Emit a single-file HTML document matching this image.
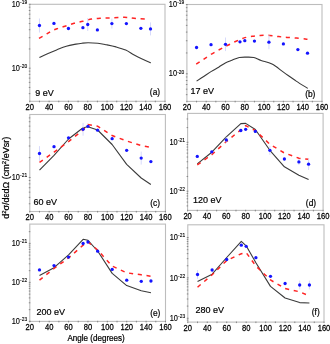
<!DOCTYPE html><html><head><meta charset="utf-8"><style>html,body{margin:0;padding:0;background:#fff;width:330px;height:344px;overflow:hidden}</style></head><body><svg width="330" height="344" viewBox="0 0 330 344" style="display:block;will-change:transform">
<rect width="330" height="344" fill="#fff"/>
<rect x="29.80" y="4.30" width="135.20" height="97.00" fill="none" stroke="#bdbdbd" stroke-width="1.1"/>
<path d="M28.80,93.63h1.50M28.80,87.44h1.50M28.80,82.38h1.50M28.80,78.10h1.50M28.80,74.39h1.50M28.80,71.12h1.50M28.80,68.20h1.80M28.80,48.96h1.50M28.80,37.71h1.50M28.80,29.73h1.50M28.80,23.54h1.50M28.80,18.48h1.50M28.80,14.20h1.50M28.80,10.49h1.50M28.80,7.22h1.50M28.80,4.30h1.80M29.80,102.30v-1.60M39.46,102.30v-1.60M49.11,102.30v-1.60M58.77,102.30v-1.60M68.43,102.30v-1.60M78.09,102.30v-1.60M87.74,102.30v-1.60M97.40,102.30v-1.60M107.06,102.30v-1.60M116.71,102.30v-1.60M126.37,102.30v-1.60M136.03,102.30v-1.60M145.69,102.30v-1.60M155.34,102.30v-1.60M165.00,102.30v-1.60" stroke="#808080" stroke-width="0.9" fill="none"/>
<text transform="translate(29.80,110.10) scale(1,1.15)" font-family="Liberation Sans, sans-serif" font-size="7.6" fill="#000" stroke="#000" stroke-width="0.22" text-anchor="middle">20</text>
<text transform="translate(49.11,110.10) scale(1,1.15)" font-family="Liberation Sans, sans-serif" font-size="7.6" fill="#000" stroke="#000" stroke-width="0.22" text-anchor="middle">40</text>
<text transform="translate(68.43,110.10) scale(1,1.15)" font-family="Liberation Sans, sans-serif" font-size="7.6" fill="#000" stroke="#000" stroke-width="0.22" text-anchor="middle">60</text>
<text transform="translate(87.74,110.10) scale(1,1.15)" font-family="Liberation Sans, sans-serif" font-size="7.6" fill="#000" stroke="#000" stroke-width="0.22" text-anchor="middle">80</text>
<text transform="translate(107.06,110.10) scale(1,1.15)" font-family="Liberation Sans, sans-serif" font-size="7.6" fill="#000" stroke="#000" stroke-width="0.22" text-anchor="middle">100</text>
<text transform="translate(126.37,110.10) scale(1,1.15)" font-family="Liberation Sans, sans-serif" font-size="7.6" fill="#000" stroke="#000" stroke-width="0.22" text-anchor="middle">120</text>
<text transform="translate(145.69,110.10) scale(1,1.15)" font-family="Liberation Sans, sans-serif" font-size="7.6" fill="#000" stroke="#000" stroke-width="0.22" text-anchor="middle">140</text>
<text transform="translate(165.00,110.10) scale(1,1.15)" font-family="Liberation Sans, sans-serif" font-size="7.6" fill="#000" stroke="#000" stroke-width="0.22" text-anchor="middle">160</text>
<text transform="translate(27.20,6.90) scale(1,1.2)" font-family="Liberation Sans, sans-serif" font-size="7.4" fill="#000" stroke="#000" stroke-width="0.12" text-anchor="end">10<tspan dx="0.2" dy="-2.4" font-size="4.9">-19</tspan></text>
<text transform="translate(27.20,70.80) scale(1,1.2)" font-family="Liberation Sans, sans-serif" font-size="7.4" fill="#000" stroke="#000" stroke-width="0.12" text-anchor="end">10<tspan dx="0.2" dy="-2.4" font-size="4.9">-20</tspan></text>
<text x="35.30" y="95.70" font-family="Liberation Sans, sans-serif" font-size="9.0" fill="#000" stroke="#000" stroke-width="0.2">9 eV</text>
<text x="160.10" y="94.60" font-family="Liberation Sans, sans-serif" font-size="8.4" fill="#000" stroke="#000" stroke-width="0.2" text-anchor="end">(a)</text>
<path d="M39.40,57.40 C40.85,56.75 45.23,54.75 48.10,53.50 C50.97,52.25 53.57,51.12 56.60,49.90 C59.63,48.68 63.07,47.17 66.30,46.20 C69.53,45.23 73.37,44.60 76.00,44.10 C78.63,43.60 80.08,43.42 82.10,43.20 C84.12,42.98 85.48,42.80 88.10,42.80 C90.72,42.80 94.77,42.88 97.80,43.20 C100.83,43.52 103.27,44.08 106.30,44.70 C109.33,45.32 112.77,46.00 116.00,46.90 C119.23,47.80 122.67,48.75 125.70,50.10 C128.73,51.45 131.37,53.48 134.20,55.00 C137.03,56.52 139.92,57.90 142.70,59.20 C145.48,60.50 149.53,62.20 150.90,62.80" fill="none" stroke="#3a3a3a" stroke-width="1.1"/>
<path d="M39.00,38.40 C40.00,37.82 43.00,36.08 45.00,34.90 C47.00,33.72 49.00,32.33 51.00,31.30 C53.00,30.27 54.67,29.53 57.00,28.70 C59.33,27.87 62.17,27.20 65.00,26.30 C67.83,25.40 71.03,24.13 74.00,23.30 C76.97,22.47 79.87,22.00 82.80,21.30 C85.73,20.60 88.65,19.62 91.60,19.10 C94.55,18.58 97.52,18.40 100.50,18.20 C103.48,18.00 106.58,18.02 109.50,17.90 C112.42,17.78 115.08,17.58 118.00,17.50 C120.92,17.42 124.00,17.22 127.00,17.40 C130.00,17.58 132.67,18.32 136.00,18.60 C139.33,18.88 145.17,19.02 147.00,19.10" fill="none" stroke="#ff2424" stroke-width="1.5" stroke-dasharray="4.1,4.7"/>
<path d="M39.46,18.50v14.00" stroke="#d2d6fb" stroke-width="0.9"/>
<path d="M87.74,18.00v13.00" stroke="#d2d6fb" stroke-width="0.9"/>
<path d="M111.89,18.60v10.00" stroke="#d2d6fb" stroke-width="0.9"/>
<path d="M150.51,22.40v13.00" stroke="#d2d6fb" stroke-width="0.9"/>
<circle cx="39.46" cy="25.50" r="1.65" fill="#1414ff"/>
<circle cx="53.94" cy="23.40" r="1.65" fill="#1414ff"/>
<circle cx="68.43" cy="28.50" r="1.65" fill="#1414ff"/>
<circle cx="82.91" cy="27.70" r="1.65" fill="#1414ff"/>
<circle cx="87.74" cy="24.50" r="1.65" fill="#1414ff"/>
<circle cx="97.40" cy="29.90" r="1.65" fill="#1414ff"/>
<circle cx="111.89" cy="23.60" r="1.65" fill="#1414ff"/>
<circle cx="126.37" cy="23.60" r="1.65" fill="#1414ff"/>
<circle cx="140.86" cy="28.30" r="1.65" fill="#1414ff"/>
<circle cx="150.51" cy="28.90" r="1.65" fill="#1414ff"/>
<rect x="186.90" y="4.50" width="135.10" height="96.90" fill="none" stroke="#bdbdbd" stroke-width="1.1"/>
<path d="M185.90,94.66h1.50M185.90,89.17h1.50M185.90,84.53h1.50M185.90,80.52h1.50M185.90,76.97h1.50M185.90,73.80h1.80M185.90,52.94h1.50M185.90,40.74h1.50M185.90,32.08h1.50M185.90,25.36h1.50M185.90,19.87h1.50M185.90,15.23h1.50M185.90,11.22h1.50M185.90,7.67h1.50M185.90,4.50h1.80M186.90,102.40v-1.60M196.55,102.40v-1.60M206.20,102.40v-1.60M215.85,102.40v-1.60M225.50,102.40v-1.60M235.15,102.40v-1.60M244.80,102.40v-1.60M254.45,102.40v-1.60M264.10,102.40v-1.60M273.75,102.40v-1.60M283.40,102.40v-1.60M293.05,102.40v-1.60M302.70,102.40v-1.60M312.35,102.40v-1.60M322.00,102.40v-1.60" stroke="#808080" stroke-width="0.9" fill="none"/>
<text transform="translate(186.90,110.20) scale(1,1.15)" font-family="Liberation Sans, sans-serif" font-size="7.6" fill="#000" stroke="#000" stroke-width="0.22" text-anchor="middle">20</text>
<text transform="translate(206.20,110.20) scale(1,1.15)" font-family="Liberation Sans, sans-serif" font-size="7.6" fill="#000" stroke="#000" stroke-width="0.22" text-anchor="middle">40</text>
<text transform="translate(225.50,110.20) scale(1,1.15)" font-family="Liberation Sans, sans-serif" font-size="7.6" fill="#000" stroke="#000" stroke-width="0.22" text-anchor="middle">60</text>
<text transform="translate(244.80,110.20) scale(1,1.15)" font-family="Liberation Sans, sans-serif" font-size="7.6" fill="#000" stroke="#000" stroke-width="0.22" text-anchor="middle">80</text>
<text transform="translate(264.10,110.20) scale(1,1.15)" font-family="Liberation Sans, sans-serif" font-size="7.6" fill="#000" stroke="#000" stroke-width="0.22" text-anchor="middle">100</text>
<text transform="translate(283.40,110.20) scale(1,1.15)" font-family="Liberation Sans, sans-serif" font-size="7.6" fill="#000" stroke="#000" stroke-width="0.22" text-anchor="middle">120</text>
<text transform="translate(302.70,110.20) scale(1,1.15)" font-family="Liberation Sans, sans-serif" font-size="7.6" fill="#000" stroke="#000" stroke-width="0.22" text-anchor="middle">140</text>
<text transform="translate(322.00,110.20) scale(1,1.15)" font-family="Liberation Sans, sans-serif" font-size="7.6" fill="#000" stroke="#000" stroke-width="0.22" text-anchor="middle">160</text>
<text transform="translate(184.30,7.10) scale(1,1.2)" font-family="Liberation Sans, sans-serif" font-size="7.4" fill="#000" stroke="#000" stroke-width="0.12" text-anchor="end">10<tspan dx="0.2" dy="-2.4" font-size="4.9">-19</tspan></text>
<text transform="translate(184.30,76.40) scale(1,1.2)" font-family="Liberation Sans, sans-serif" font-size="7.4" fill="#000" stroke="#000" stroke-width="0.12" text-anchor="end">10<tspan dx="0.2" dy="-2.4" font-size="4.9">-20</tspan></text>
<text x="190.50" y="93.80" font-family="Liberation Sans, sans-serif" font-size="9.0" fill="#000" stroke="#000" stroke-width="0.2">17 eV</text>
<text x="315.40" y="96.90" font-family="Liberation Sans, sans-serif" font-size="8.4" fill="#000" stroke="#000" stroke-width="0.2" text-anchor="end">(b)</text>
<path d="M196.60,81.10 C197.85,80.28 201.63,77.82 204.10,76.20 C206.57,74.58 208.97,72.90 211.40,71.40 C213.83,69.90 216.38,68.62 218.70,67.20 C221.02,65.78 223.08,64.07 225.30,62.90 C227.52,61.73 229.67,61.10 232.00,60.20 C234.33,59.30 236.88,58.02 239.30,57.50 C241.72,56.98 244.08,57.10 246.50,57.10 C248.92,57.10 251.37,56.93 253.80,57.50 C256.23,58.07 258.07,59.40 261.10,60.50 C264.13,61.60 268.17,62.08 272.00,64.10 C275.83,66.12 280.07,69.77 284.10,72.60 C288.13,75.43 292.25,78.47 296.20,81.10 C300.15,83.73 305.87,87.18 307.80,88.40" fill="none" stroke="#3a3a3a" stroke-width="1.1"/>
<path d="M196.20,64.10 C197.42,63.30 200.97,60.95 203.50,59.30 C206.03,57.65 208.72,55.83 211.40,54.20 C214.08,52.57 216.97,50.92 219.60,49.50 C222.23,48.08 224.55,47.03 227.20,45.70 C229.85,44.37 232.78,42.77 235.50,41.50 C238.22,40.23 240.72,38.97 243.50,38.10 C246.28,37.23 249.42,36.75 252.20,36.30 C254.98,35.85 257.30,35.55 260.20,35.40 C263.10,35.25 266.52,35.20 269.60,35.40 C272.68,35.60 275.80,36.27 278.70,36.60 C281.60,36.93 284.03,37.15 287.00,37.40 C289.97,37.65 293.47,37.85 296.50,38.10 C299.53,38.35 303.25,38.65 305.20,38.90 C307.15,39.15 307.70,39.48 308.20,39.60" fill="none" stroke="#ff2424" stroke-width="1.5" stroke-dasharray="4.1,4.7"/>
<path d="M225.50,37.50v13.60" stroke="#d2d6fb" stroke-width="0.9"/>
<path d="M268.93,35.20v14.00" stroke="#d2d6fb" stroke-width="0.9"/>
<circle cx="196.55" cy="47.50" r="1.65" fill="#1414ff"/>
<circle cx="211.03" cy="44.70" r="1.65" fill="#1414ff"/>
<circle cx="225.50" cy="44.30" r="1.65" fill="#1414ff"/>
<circle cx="239.98" cy="41.80" r="1.65" fill="#1414ff"/>
<circle cx="244.80" cy="40.70" r="1.65" fill="#1414ff"/>
<circle cx="254.45" cy="41.10" r="1.65" fill="#1414ff"/>
<circle cx="268.93" cy="42.20" r="1.65" fill="#1414ff"/>
<circle cx="283.40" cy="43.90" r="1.65" fill="#1414ff"/>
<circle cx="297.88" cy="49.60" r="1.65" fill="#1414ff"/>
<circle cx="307.52" cy="53.20" r="1.65" fill="#1414ff"/>
<rect x="29.80" y="114.50" width="135.60" height="97.00" fill="none" stroke="#bdbdbd" stroke-width="1.1"/>
<path d="M28.80,203.76h1.50M28.80,197.37h1.50M28.80,192.14h1.50M28.80,187.72h1.50M28.80,183.90h1.50M28.80,180.52h1.50M28.80,177.50h1.80M28.80,157.63h1.50M28.80,146.01h1.50M28.80,137.76h1.50M28.80,131.37h1.50M28.80,126.14h1.50M28.80,121.72h1.50M28.80,117.90h1.50M29.80,212.50v-1.60M39.49,212.50v-1.60M49.17,212.50v-1.60M58.86,212.50v-1.60M68.54,212.50v-1.60M78.23,212.50v-1.60M87.91,212.50v-1.60M97.60,212.50v-1.60M107.29,212.50v-1.60M116.97,212.50v-1.60M126.66,212.50v-1.60M136.34,212.50v-1.60M146.03,212.50v-1.60M155.71,212.50v-1.60M165.40,212.50v-1.60" stroke="#808080" stroke-width="0.9" fill="none"/>
<text transform="translate(29.80,220.30) scale(1,1.15)" font-family="Liberation Sans, sans-serif" font-size="7.6" fill="#000" stroke="#000" stroke-width="0.22" text-anchor="middle">20</text>
<text transform="translate(49.17,220.30) scale(1,1.15)" font-family="Liberation Sans, sans-serif" font-size="7.6" fill="#000" stroke="#000" stroke-width="0.22" text-anchor="middle">40</text>
<text transform="translate(68.54,220.30) scale(1,1.15)" font-family="Liberation Sans, sans-serif" font-size="7.6" fill="#000" stroke="#000" stroke-width="0.22" text-anchor="middle">60</text>
<text transform="translate(87.91,220.30) scale(1,1.15)" font-family="Liberation Sans, sans-serif" font-size="7.6" fill="#000" stroke="#000" stroke-width="0.22" text-anchor="middle">80</text>
<text transform="translate(107.29,220.30) scale(1,1.15)" font-family="Liberation Sans, sans-serif" font-size="7.6" fill="#000" stroke="#000" stroke-width="0.22" text-anchor="middle">100</text>
<text transform="translate(126.66,220.30) scale(1,1.15)" font-family="Liberation Sans, sans-serif" font-size="7.6" fill="#000" stroke="#000" stroke-width="0.22" text-anchor="middle">120</text>
<text transform="translate(146.03,220.30) scale(1,1.15)" font-family="Liberation Sans, sans-serif" font-size="7.6" fill="#000" stroke="#000" stroke-width="0.22" text-anchor="middle">140</text>
<text transform="translate(165.40,220.30) scale(1,1.15)" font-family="Liberation Sans, sans-serif" font-size="7.6" fill="#000" stroke="#000" stroke-width="0.22" text-anchor="middle">160</text>
<text transform="translate(27.20,180.10) scale(1,1.2)" font-family="Liberation Sans, sans-serif" font-size="7.4" fill="#000" stroke="#000" stroke-width="0.12" text-anchor="end">10<tspan dx="0.2" dy="-2.4" font-size="4.9">-21</tspan></text>
<text x="33.50" y="205.20" font-family="Liberation Sans, sans-serif" font-size="9.0" fill="#000" stroke="#000" stroke-width="0.2">60 eV</text>
<text x="160.10" y="206.40" font-family="Liberation Sans, sans-serif" font-size="8.4" fill="#000" stroke="#000" stroke-width="0.2" text-anchor="end">(c)</text>
<polyline points="39.49,170.20 54.01,155.40 68.54,139.00 83.07,127.80 87.91,126.70 97.60,130.00 112.13,144.50 126.66,164.30 141.19,178.00 150.87,184.50" fill="none" stroke="#3a3a3a" stroke-width="1.1" stroke-linejoin="round"/>
<polyline points="39.49,162.40 54.01,152.20 68.54,141.60 83.07,130.00 87.91,124.50 97.60,126.20 112.13,135.50 126.66,141.00 141.19,145.50 150.87,147.40" fill="none" stroke="#ff2424" stroke-width="1.5" stroke-dasharray="4.1,4.7"/>
<path d="M39.49,146.10v14.80" stroke="#d2d6fb" stroke-width="0.9"/>
<path d="M83.07,122.90v12.80" stroke="#d2d6fb" stroke-width="0.9"/>
<path d="M141.19,151.60v13.00" stroke="#d2d6fb" stroke-width="0.9"/>
<circle cx="39.49" cy="153.50" r="1.65" fill="#1414ff"/>
<circle cx="54.01" cy="146.70" r="1.65" fill="#1414ff"/>
<circle cx="68.54" cy="137.80" r="1.65" fill="#1414ff"/>
<circle cx="83.07" cy="129.30" r="1.65" fill="#1414ff"/>
<circle cx="87.91" cy="126.30" r="1.65" fill="#1414ff"/>
<circle cx="97.60" cy="130.20" r="1.65" fill="#1414ff"/>
<circle cx="112.13" cy="138.70" r="1.65" fill="#1414ff"/>
<circle cx="126.66" cy="150.30" r="1.65" fill="#1414ff"/>
<circle cx="141.19" cy="158.10" r="1.65" fill="#1414ff"/>
<circle cx="150.87" cy="161.60" r="1.65" fill="#1414ff"/>
<rect x="187.60" y="113.40" width="135.50" height="97.00" fill="none" stroke="#bdbdbd" stroke-width="1.1"/>
<path d="M186.60,205.92h1.50M186.60,202.05h1.50M186.60,198.77h1.50M186.60,195.94h1.50M186.60,193.44h1.50M186.60,191.20h1.80M186.60,176.48h1.50M186.60,167.87h1.50M186.60,161.76h1.50M186.60,157.02h1.50M186.60,153.15h1.50M186.60,149.87h1.50M186.60,147.04h1.50M186.60,144.54h1.50M186.60,142.30h1.80M186.60,127.58h1.50M186.60,118.97h1.50M187.60,211.40v-1.60M197.28,211.40v-1.60M206.96,211.40v-1.60M216.64,211.40v-1.60M226.31,211.40v-1.60M235.99,211.40v-1.60M245.67,211.40v-1.60M255.35,211.40v-1.60M265.03,211.40v-1.60M274.71,211.40v-1.60M284.39,211.40v-1.60M294.06,211.40v-1.60M303.74,211.40v-1.60M313.42,211.40v-1.60M323.10,211.40v-1.60" stroke="#808080" stroke-width="0.9" fill="none"/>
<text transform="translate(187.60,219.20) scale(1,1.15)" font-family="Liberation Sans, sans-serif" font-size="7.6" fill="#000" stroke="#000" stroke-width="0.22" text-anchor="middle">20</text>
<text transform="translate(206.96,219.20) scale(1,1.15)" font-family="Liberation Sans, sans-serif" font-size="7.6" fill="#000" stroke="#000" stroke-width="0.22" text-anchor="middle">40</text>
<text transform="translate(226.31,219.20) scale(1,1.15)" font-family="Liberation Sans, sans-serif" font-size="7.6" fill="#000" stroke="#000" stroke-width="0.22" text-anchor="middle">60</text>
<text transform="translate(245.67,219.20) scale(1,1.15)" font-family="Liberation Sans, sans-serif" font-size="7.6" fill="#000" stroke="#000" stroke-width="0.22" text-anchor="middle">80</text>
<text transform="translate(265.03,219.20) scale(1,1.15)" font-family="Liberation Sans, sans-serif" font-size="7.6" fill="#000" stroke="#000" stroke-width="0.22" text-anchor="middle">100</text>
<text transform="translate(284.39,219.20) scale(1,1.15)" font-family="Liberation Sans, sans-serif" font-size="7.6" fill="#000" stroke="#000" stroke-width="0.22" text-anchor="middle">120</text>
<text transform="translate(303.74,219.20) scale(1,1.15)" font-family="Liberation Sans, sans-serif" font-size="7.6" fill="#000" stroke="#000" stroke-width="0.22" text-anchor="middle">140</text>
<text transform="translate(323.10,219.20) scale(1,1.15)" font-family="Liberation Sans, sans-serif" font-size="7.6" fill="#000" stroke="#000" stroke-width="0.22" text-anchor="middle">160</text>
<text transform="translate(185.00,144.90) scale(1,1.2)" font-family="Liberation Sans, sans-serif" font-size="7.4" fill="#000" stroke="#000" stroke-width="0.12" text-anchor="end">10<tspan dx="0.2" dy="-2.4" font-size="4.9">-21</tspan></text>
<text transform="translate(185.00,193.80) scale(1,1.2)" font-family="Liberation Sans, sans-serif" font-size="7.4" fill="#000" stroke="#000" stroke-width="0.12" text-anchor="end">10<tspan dx="0.2" dy="-2.4" font-size="4.9">-22</tspan></text>
<text x="193.00" y="203.40" font-family="Liberation Sans, sans-serif" font-size="9.0" fill="#000" stroke="#000" stroke-width="0.2">120 eV</text>
<text x="316.10" y="205.50" font-family="Liberation Sans, sans-serif" font-size="8.4" fill="#000" stroke="#000" stroke-width="0.2" text-anchor="end">(d)</text>
<polyline points="197.28,163.90 211.80,152.20 226.31,136.90 240.83,123.60 245.67,123.40 255.35,129.50 269.87,150.30 284.39,166.80 298.90,175.30 308.58,179.50" fill="none" stroke="#3a3a3a" stroke-width="1.1" stroke-linejoin="round"/>
<polyline points="197.28,164.90 211.80,154.70 226.31,141.60 240.83,129.80 245.67,125.60 255.35,130.50 269.87,144.30 284.39,153.00 298.90,158.20 308.58,159.30" fill="none" stroke="#ff2424" stroke-width="1.5" stroke-dasharray="4.1,4.7"/>
<path d="M226.31,136.90v6.00" stroke="#d2d6fb" stroke-width="0.9"/>
<path d="M269.87,145.80v9.00" stroke="#d2d6fb" stroke-width="0.9"/>
<path d="M298.90,158.90v6.00" stroke="#d2d6fb" stroke-width="0.9"/>
<path d="M308.58,158.40v11.60" stroke="#d2d6fb" stroke-width="0.9"/>
<circle cx="197.28" cy="156.40" r="1.65" fill="#1414ff"/>
<circle cx="211.80" cy="151.80" r="1.65" fill="#1414ff"/>
<circle cx="226.31" cy="139.90" r="1.65" fill="#1414ff"/>
<circle cx="240.83" cy="130.50" r="1.65" fill="#1414ff"/>
<circle cx="245.67" cy="129.30" r="1.65" fill="#1414ff"/>
<circle cx="255.35" cy="131.40" r="1.65" fill="#1414ff"/>
<circle cx="269.87" cy="150.30" r="1.65" fill="#1414ff"/>
<circle cx="284.39" cy="159.00" r="1.65" fill="#1414ff"/>
<circle cx="298.90" cy="161.90" r="1.65" fill="#1414ff"/>
<circle cx="308.58" cy="164.20" r="1.65" fill="#1414ff"/>
<rect x="29.80" y="224.10" width="135.70" height="97.30" fill="none" stroke="#bdbdbd" stroke-width="1.1"/>
<path d="M28.80,321.40h1.80M28.80,309.66h1.50M28.80,302.79h1.50M28.80,297.92h1.50M28.80,294.14h1.50M28.80,291.05h1.50M28.80,288.44h1.50M28.80,286.18h1.50M28.80,284.18h1.50M28.80,282.40h1.80M28.80,270.66h1.50M28.80,263.79h1.50M28.80,258.92h1.50M28.80,255.14h1.50M28.80,252.05h1.50M28.80,249.44h1.50M28.80,247.18h1.50M28.80,245.18h1.50M28.80,243.40h1.80M28.80,231.66h1.50M29.80,322.40v-1.60M39.49,322.40v-1.60M49.19,322.40v-1.60M58.88,322.40v-1.60M68.57,322.40v-1.60M78.26,322.40v-1.60M87.96,322.40v-1.60M97.65,322.40v-1.60M107.34,322.40v-1.60M117.04,322.40v-1.60M126.73,322.40v-1.60M136.42,322.40v-1.60M146.11,322.40v-1.60M155.81,322.40v-1.60M165.50,322.40v-1.60" stroke="#808080" stroke-width="0.9" fill="none"/>
<text transform="translate(29.80,330.20) scale(1,1.15)" font-family="Liberation Sans, sans-serif" font-size="7.6" fill="#000" stroke="#000" stroke-width="0.22" text-anchor="middle">20</text>
<text transform="translate(49.19,330.20) scale(1,1.15)" font-family="Liberation Sans, sans-serif" font-size="7.6" fill="#000" stroke="#000" stroke-width="0.22" text-anchor="middle">40</text>
<text transform="translate(68.57,330.20) scale(1,1.15)" font-family="Liberation Sans, sans-serif" font-size="7.6" fill="#000" stroke="#000" stroke-width="0.22" text-anchor="middle">60</text>
<text transform="translate(87.96,330.20) scale(1,1.15)" font-family="Liberation Sans, sans-serif" font-size="7.6" fill="#000" stroke="#000" stroke-width="0.22" text-anchor="middle">80</text>
<text transform="translate(107.34,330.20) scale(1,1.15)" font-family="Liberation Sans, sans-serif" font-size="7.6" fill="#000" stroke="#000" stroke-width="0.22" text-anchor="middle">100</text>
<text transform="translate(126.73,330.20) scale(1,1.15)" font-family="Liberation Sans, sans-serif" font-size="7.6" fill="#000" stroke="#000" stroke-width="0.22" text-anchor="middle">120</text>
<text transform="translate(146.11,330.20) scale(1,1.15)" font-family="Liberation Sans, sans-serif" font-size="7.6" fill="#000" stroke="#000" stroke-width="0.22" text-anchor="middle">140</text>
<text transform="translate(165.50,330.20) scale(1,1.15)" font-family="Liberation Sans, sans-serif" font-size="7.6" fill="#000" stroke="#000" stroke-width="0.22" text-anchor="middle">160</text>
<text transform="translate(27.20,246.00) scale(1,1.2)" font-family="Liberation Sans, sans-serif" font-size="7.4" fill="#000" stroke="#000" stroke-width="0.12" text-anchor="end">10<tspan dx="0.2" dy="-2.4" font-size="4.9">-21</tspan></text>
<text transform="translate(27.20,285.00) scale(1,1.2)" font-family="Liberation Sans, sans-serif" font-size="7.4" fill="#000" stroke="#000" stroke-width="0.12" text-anchor="end">10<tspan dx="0.2" dy="-2.4" font-size="4.9">-22</tspan></text>
<text transform="translate(27.20,324.00) scale(1,1.2)" font-family="Liberation Sans, sans-serif" font-size="7.4" fill="#000" stroke="#000" stroke-width="0.12" text-anchor="end">10<tspan dx="0.2" dy="-2.4" font-size="4.9">-23</tspan></text>
<text x="36.50" y="314.90" font-family="Liberation Sans, sans-serif" font-size="9.0" fill="#000" stroke="#000" stroke-width="0.2">200 eV</text>
<text x="160.40" y="316.00" font-family="Liberation Sans, sans-serif" font-size="8.4" fill="#000" stroke="#000" stroke-width="0.2" text-anchor="end">(e)</text>
<polyline points="39.49,275.50 54.03,267.70 68.57,254.80 83.11,239.30 87.96,240.30 97.65,251.00 112.19,273.40 126.73,285.60 141.27,290.80 150.96,292.80" fill="none" stroke="#3a3a3a" stroke-width="1.1" stroke-linejoin="round"/>
<polyline points="39.49,280.20 54.03,268.50 68.57,257.90 83.11,245.20 87.96,242.00 97.65,250.00 112.19,266.10 126.73,272.80 141.27,274.80 150.96,276.30" fill="none" stroke="#ff2424" stroke-width="1.5" stroke-dasharray="4.1,4.7"/>
<circle cx="39.49" cy="269.90" r="1.65" fill="#1414ff"/>
<circle cx="54.03" cy="265.60" r="1.65" fill="#1414ff"/>
<circle cx="68.57" cy="257.10" r="1.65" fill="#1414ff"/>
<circle cx="83.11" cy="243.50" r="1.65" fill="#1414ff"/>
<circle cx="87.96" cy="242.00" r="1.65" fill="#1414ff"/>
<circle cx="97.65" cy="251.20" r="1.65" fill="#1414ff"/>
<circle cx="112.19" cy="269.40" r="1.65" fill="#1414ff"/>
<circle cx="126.73" cy="280.20" r="1.65" fill="#1414ff"/>
<circle cx="141.27" cy="281.30" r="1.65" fill="#1414ff"/>
<circle cx="150.96" cy="281.00" r="1.65" fill="#1414ff"/>
<rect x="187.80" y="224.80" width="136.20" height="97.30" fill="none" stroke="#bdbdbd" stroke-width="1.1"/>
<path d="M186.80,320.10h1.50M186.80,318.25h1.80M186.80,306.10h1.50M186.80,299.00h1.50M186.80,293.96h1.50M186.80,290.05h1.50M186.80,286.85h1.50M186.80,284.15h1.50M186.80,281.81h1.50M186.80,279.75h1.50M186.80,277.90h1.80M186.80,265.75h1.50M186.80,258.65h1.50M186.80,253.61h1.50M186.80,249.70h1.50M186.80,246.50h1.50M186.80,243.80h1.50M186.80,241.46h1.50M186.80,239.40h1.50M186.80,237.55h1.80M187.80,323.10v-1.60M197.53,323.10v-1.60M207.26,323.10v-1.60M216.99,323.10v-1.60M226.71,323.10v-1.60M236.44,323.10v-1.60M246.17,323.10v-1.60M255.90,323.10v-1.60M265.63,323.10v-1.60M275.36,323.10v-1.60M285.09,323.10v-1.60M294.81,323.10v-1.60M304.54,323.10v-1.60M314.27,323.10v-1.60M324.00,323.10v-1.60" stroke="#808080" stroke-width="0.9" fill="none"/>
<text transform="translate(187.80,330.90) scale(1,1.15)" font-family="Liberation Sans, sans-serif" font-size="7.6" fill="#000" stroke="#000" stroke-width="0.22" text-anchor="middle">20</text>
<text transform="translate(207.26,330.90) scale(1,1.15)" font-family="Liberation Sans, sans-serif" font-size="7.6" fill="#000" stroke="#000" stroke-width="0.22" text-anchor="middle">40</text>
<text transform="translate(226.71,330.90) scale(1,1.15)" font-family="Liberation Sans, sans-serif" font-size="7.6" fill="#000" stroke="#000" stroke-width="0.22" text-anchor="middle">60</text>
<text transform="translate(246.17,330.90) scale(1,1.15)" font-family="Liberation Sans, sans-serif" font-size="7.6" fill="#000" stroke="#000" stroke-width="0.22" text-anchor="middle">80</text>
<text transform="translate(265.63,330.90) scale(1,1.15)" font-family="Liberation Sans, sans-serif" font-size="7.6" fill="#000" stroke="#000" stroke-width="0.22" text-anchor="middle">100</text>
<text transform="translate(285.09,330.90) scale(1,1.15)" font-family="Liberation Sans, sans-serif" font-size="7.6" fill="#000" stroke="#000" stroke-width="0.22" text-anchor="middle">120</text>
<text transform="translate(304.54,330.90) scale(1,1.15)" font-family="Liberation Sans, sans-serif" font-size="7.6" fill="#000" stroke="#000" stroke-width="0.22" text-anchor="middle">140</text>
<text transform="translate(324.00,330.90) scale(1,1.15)" font-family="Liberation Sans, sans-serif" font-size="7.6" fill="#000" stroke="#000" stroke-width="0.22" text-anchor="middle">160</text>
<text transform="translate(185.20,240.15) scale(1,1.2)" font-family="Liberation Sans, sans-serif" font-size="7.4" fill="#000" stroke="#000" stroke-width="0.12" text-anchor="end">10<tspan dx="0.2" dy="-2.4" font-size="4.9">-21</tspan></text>
<text transform="translate(185.20,280.50) scale(1,1.2)" font-family="Liberation Sans, sans-serif" font-size="7.4" fill="#000" stroke="#000" stroke-width="0.12" text-anchor="end">10<tspan dx="0.2" dy="-2.4" font-size="4.9">-22</tspan></text>
<text transform="translate(185.20,320.85) scale(1,1.2)" font-family="Liberation Sans, sans-serif" font-size="7.4" fill="#000" stroke="#000" stroke-width="0.12" text-anchor="end">10<tspan dx="0.2" dy="-2.4" font-size="4.9">-23</tspan></text>
<text x="195.50" y="313.20" font-family="Liberation Sans, sans-serif" font-size="9.0" fill="#000" stroke="#000" stroke-width="0.2">280 eV</text>
<text x="319.70" y="314.60" font-family="Liberation Sans, sans-serif" font-size="8.4" fill="#000" stroke="#000" stroke-width="0.2" text-anchor="end">(f)</text>
<polyline points="197.53,281.40 212.12,274.20 226.71,257.50 241.31,241.40 246.17,245.80 255.90,262.80 270.49,286.40 285.09,298.00 299.68,302.60 309.41,303.00" fill="none" stroke="#3a3a3a" stroke-width="1.1" stroke-linejoin="round"/>
<polyline points="197.53,287.20 212.12,274.80 226.71,260.50 241.31,253.70 246.17,252.60 255.90,266.00 270.49,280.00 285.09,288.50 299.68,291.80 309.41,296.00" fill="none" stroke="#ff2424" stroke-width="1.5" stroke-dasharray="4.1,4.7"/>
<path d="M197.53,270.10v8.80" stroke="#d2d6fb" stroke-width="0.9"/>
<path d="M299.68,280.60v8.80" stroke="#d2d6fb" stroke-width="0.9"/>
<path d="M309.41,280.60v8.80" stroke="#d2d6fb" stroke-width="0.9"/>
<circle cx="197.53" cy="274.50" r="1.65" fill="#1414ff"/>
<circle cx="212.12" cy="270.00" r="1.65" fill="#1414ff"/>
<circle cx="226.71" cy="259.50" r="1.65" fill="#1414ff"/>
<circle cx="241.31" cy="245.20" r="1.65" fill="#1414ff"/>
<circle cx="246.17" cy="246.30" r="1.65" fill="#1414ff"/>
<circle cx="255.90" cy="257.70" r="1.65" fill="#1414ff"/>
<circle cx="270.49" cy="276.30" r="1.65" fill="#1414ff"/>
<circle cx="285.09" cy="283.50" r="1.65" fill="#1414ff"/>
<circle cx="299.68" cy="285.00" r="1.65" fill="#1414ff"/>
<circle cx="309.41" cy="285.00" r="1.65" fill="#1414ff"/>
<text transform="translate(8.6,177.8) rotate(-90)" font-family="Liberation Sans, sans-serif" font-size="9.0" fill="#000" stroke="#000" stroke-width="0.22" text-anchor="middle">d<tspan dy="-3" font-size="6">2</tspan><tspan dy="3">σ/dεdΩ (cm</tspan><tspan dy="-3" font-size="6">2</tspan><tspan dy="3">/eVsr)</tspan></text>
<text transform="translate(96.1,341.4) scale(1,1.05)" font-family="Liberation Sans, sans-serif" font-size="8.05" fill="#000" stroke="#000" stroke-width="0.22" text-anchor="middle">Angle (degrees)</text>
</svg></body></html>
